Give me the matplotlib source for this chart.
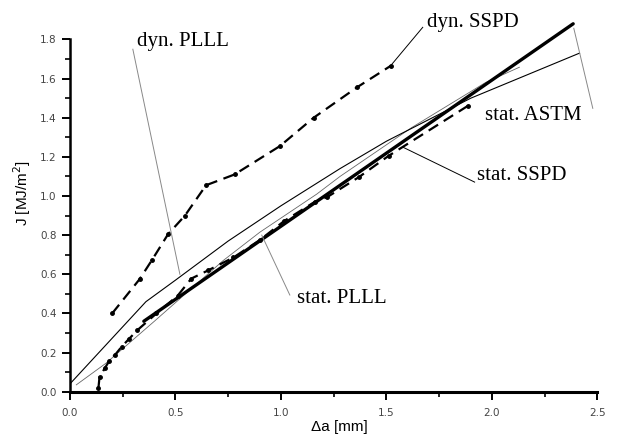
import matplotlib
matplotlib.use("Agg")
import matplotlib.pyplot as plt
from matplotlib.ticker import FixedLocator

# crack extension da [mm] vs J-integral [MJ/m^2]
dyn_sspd_x = [0.20, 0.33, 0.39, 0.465, 0.545, 0.645, 0.78, 0.995, 1.155, 1.36, 1.52]
dyn_sspd_y = [0.40, 0.575, 0.675, 0.805, 0.90, 1.055, 1.11, 1.255, 1.40, 1.555, 1.665]

stat_sspd_x = [0.135, 0.14, 0.165, 0.185, 0.215, 0.245, 0.28, 0.32, 0.41, 0.51,
               0.575, 0.655, 0.775, 0.9, 1.015, 1.16, 1.22, 1.37, 1.51, 1.885]
stat_sspd_y = [0.02, 0.075, 0.12, 0.155, 0.19, 0.23, 0.27, 0.315, 0.40, 0.49,
               0.578, 0.62, 0.686, 0.775, 0.872, 0.97, 0.995, 1.097, 1.205, 1.46]

# fitted curves
stat_astm_x = [0.35, 2.385]
stat_astm_y = [0.36, 1.88]

dyn_plll_x = [0.0, 0.18, 0.36, 0.5, 0.75, 1.0, 1.28, 1.5, 1.9, 2.415]
dyn_plll_y = [0.04, 0.25, 0.46, 0.57, 0.77, 0.95, 1.14, 1.28, 1.50, 1.73]

stat_plll_x = [0.03, 0.17, 0.40, 0.726, 0.9, 1.17, 1.28, 1.62, 1.97, 2.13]
stat_plll_y = [0.035, 0.145, 0.36, 0.67, 0.815, 1.01, 1.10, 1.35, 1.58, 1.658]

x_ticks = [0.0, 0.5, 1.0, 1.5, 2.0, 2.5]
y_ticks = [0.0, 0.2, 0.4, 0.6, 0.8, 1.0, 1.2, 1.4, 1.6, 1.8]
x_minor = [0.25, 0.75, 1.25, 1.75, 2.25]
y_minor = [0.1, 0.3, 0.5, 0.7, 0.9, 1.1, 1.3, 1.5, 1.7]

fig = plt.figure(figsize=(6.22, 4.41), dpi=100)
ax = fig.add_axes([0.1125, 0.1118, 0.848, 0.852])

ax.plot(stat_plll_x, stat_plll_y, color="#666666", lw=0.6)
ax.plot(dyn_plll_x, dyn_plll_y, color="black", lw=0.8)
ax.plot(stat_astm_x, stat_astm_y, color="black", lw=2.4, solid_capstyle="round")
ax.plot(stat_sspd_x, stat_sspd_y, color="black", lw=1.6, ls=(0, (5, 3)),
        marker="o", ms=2.5)
ax.plot(dyn_sspd_x, dyn_sspd_y, color="black", lw=1.6, ls=(0, (5, 3)),
        marker="o", ms=2.5)

ax.set_xlim(0, 2.5)
ax.set_ylim(0, 1.92)
ax.spines["top"].set_visible(False)
ax.spines["right"].set_visible(False)
ax.spines["left"].set_bounds(0, 1.8)
ax.spines["left"].set_linewidth(1.8)
ax.spines["bottom"].set_linewidth(2.2)

ax.set_xticks(x_ticks)
ax.set_yticks(y_ticks)
ax.set_xticklabels([f"{v:.1f}" for v in x_ticks])
ax.set_yticklabels([f"{v:.1f}" for v in y_ticks])
ax.xaxis.set_minor_locator(FixedLocator(x_minor))
ax.yaxis.set_minor_locator(FixedLocator(y_minor))
ax.tick_params(which="major", length=6, width=1.4, labelsize=7.5,
               labelcolor="#444444", direction="out")
ax.tick_params(which="minor", length=3.5, width=1.2, direction="out")
ax.tick_params(axis="x", which="major", pad=6)

ax.set_xlabel("\u0394a [mm]", fontsize=11, family="Liberation Sans")
ax.set_ylabel("J [MJ/m$^2$]", fontsize=11, family="Liberation Sans")
ax.yaxis.set_label_coords(-0.07, 0.53)
ax.xaxis.set_label_coords(0.51, -0.075)

# labels with leader lines: (text, text xy, line start, line end, color, ha)
labels = [
    ("dyn. PLLL", (0.535, 1.79), (0.298, 1.75), (0.521, 0.60), "#888888", "center"),
    ("dyn. SSPD", (1.909, 1.888), (1.672, 1.862), (1.52, 1.666), "black", "center"),
    ("stat. ASTM", (1.966, 1.413), (2.388, 1.857), (2.478, 1.448), "#888888", "left"),
    ("stat. SSPD", (1.928, 1.107), (1.577, 1.25), (1.918, 1.071), "black", "left"),
    ("stat. PLLL", (1.075, 0.478), (0.909, 0.80), (1.042, 0.494), "#888888", "left"),
]
for txt, pos, p0, p1, col, ha in labels:
    ax.plot([p0[0], p1[0]], [p0[1], p1[1]], color=col, lw=0.7, clip_on=False)
    ax.text(pos[0], pos[1], txt, fontsize=15, family="Liberation Serif",
            ha=ha, va="center", clip_on=False)

fig.savefig("out.png", dpi=100)
